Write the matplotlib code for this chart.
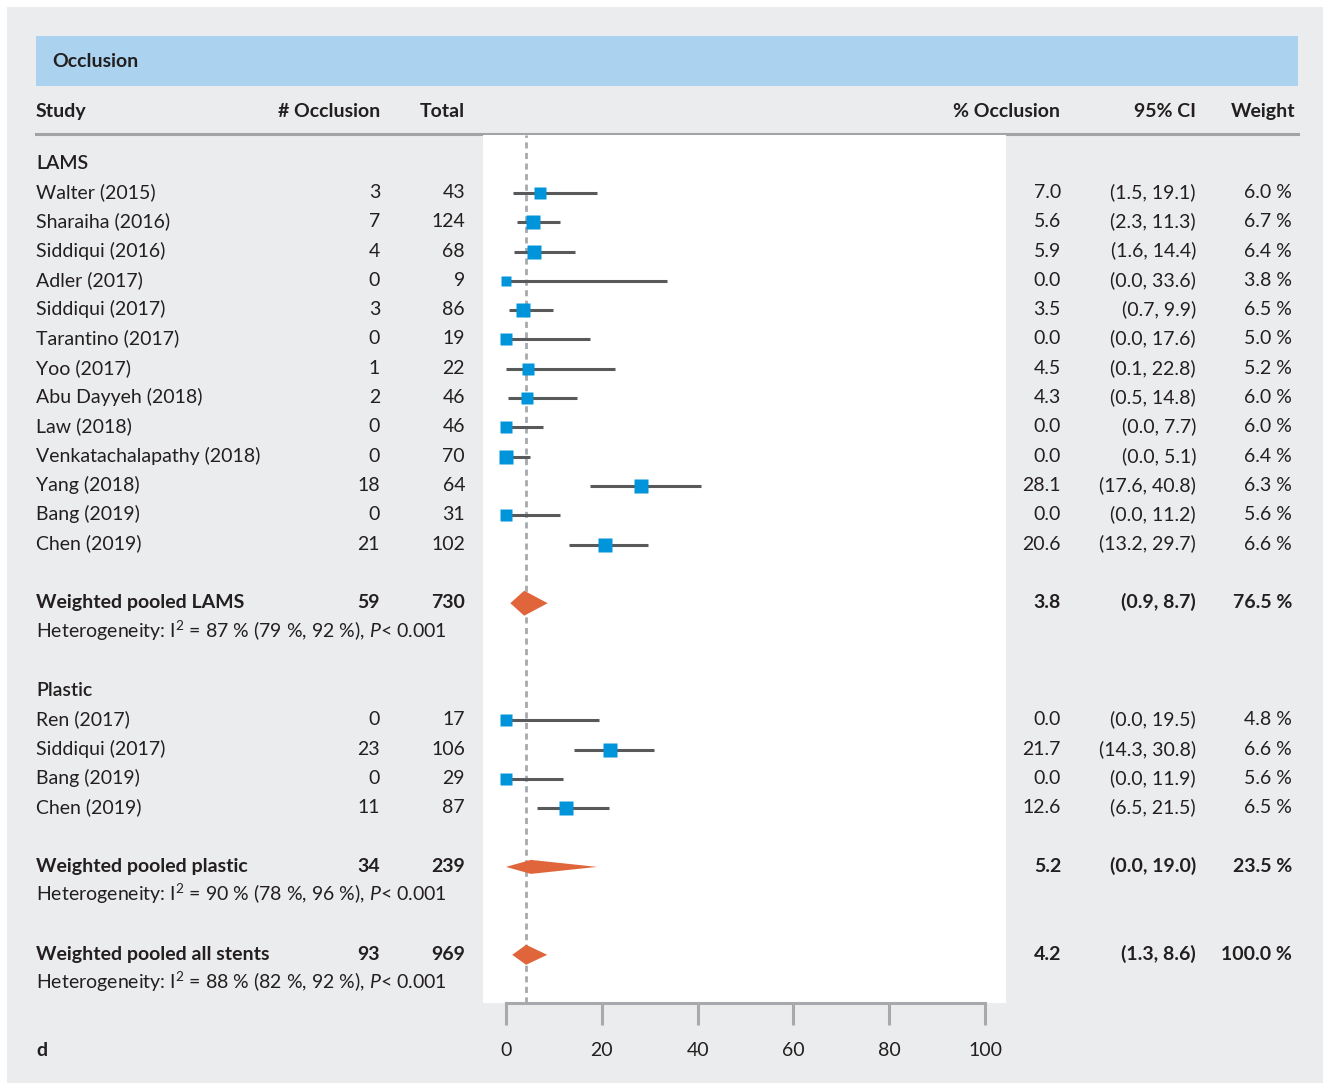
import numpy as np
import matplotlib
matplotlib.use("Agg")
import matplotlib.pyplot as plt
from matplotlib import transforms as mtransforms
from matplotlib.patches import Rectangle, Polygon
from matplotlib.lines import Line2D

plt.rcParams['font.family'] = ['Lato', 'DejaVu Sans']
plt.rcParams['mathtext.fontset'] = 'custom'
plt.rcParams['mathtext.rm'] = 'Lato'
plt.rcParams['mathtext.it'] = 'Lato:italic'

##
# Data
##
lams_study = ['Walter (2015)', 'Sharaiha (2016)', 'Siddiqui (2016)', 'Adler (2017)',
              'Siddiqui (2017)', 'Tarantino (2017)', 'Yoo (2017)', 'Abu Dayyeh (2018)',
              'Law (2018)', 'Venkatachalapathy (2018)', 'Yang (2018)', 'Bang (2019)',
              'Chen (2019)']
lams_events = [3, 7, 4, 0, 3, 0, 1, 2, 0, 0, 18, 0, 21]
lams_total = [43, 124, 68, 9, 86, 19, 22, 46, 46, 70, 64, 31, 102]
lams_est = [7.0, 5.6, 5.9, 0.0, 3.5, 0.0, 4.5, 4.3, 0.0, 0.0, 28.1, 0.0, 20.6]
lams_lo = [1.5, 2.3, 1.6, 0.0, 0.7, 0.0, 0.1, 0.5, 0.0, 0.0, 17.6, 0.0, 13.2]
lams_hi = [19.1, 11.3, 14.4, 33.6, 9.9, 17.6, 22.8, 14.8, 7.7, 5.1, 40.8, 11.2, 29.7]
lams_weight = [6.0, 6.7, 6.4, 3.8, 6.5, 5.0, 5.2, 6.0, 6.0, 6.4, 6.3, 5.6, 6.6]

plastic_study = ['Ren (2017)', 'Siddiqui (2017)', 'Bang (2019)', 'Chen (2019)']
plastic_events = [0, 23, 0, 11]
plastic_total = [17, 106, 29, 87]
plastic_est = [0.0, 21.7, 0.0, 12.6]
plastic_lo = [0.0, 14.3, 0.0, 6.5]
plastic_hi = [19.5, 30.8, 11.9, 21.5]
plastic_weight = [4.8, 6.6, 5.6, 6.5]

pooled_label = ['Weighted pooled LAMS', 'Weighted pooled plastic', 'Weighted pooled all stents']
pooled_events = [59, 34, 93]
pooled_total = [730, 239, 969]
pooled_est = [3.8, 5.2, 4.2]
pooled_lo = [0.9, 0.0, 1.3]
pooled_hi = [8.7, 19.0, 8.6]
pooled_weight = [76.5, 23.5, 100.0]
het_i2 = [87, 90, 88]
het_lo = [79, 78, 82]
het_hi = [92, 96, 92]

xticks = [0, 20, 40, 60, 80, 100]

##
# Layout (pixels of the 1330 x 1085 canvas)
##
W, H = 1330, 1085
ROW0, STEP = 163.7, 29.3          # y of row 0 and row spacing
PX_PER_UNIT = 4.79                # 0 -> x=506, 100 -> x=985
TXT = '#231f20'
FS = 14
GREY = '#a7a9ac'

rows_lams = 1 + np.arange(len(lams_study))
r_pool_lams = rows_lams[-1] + 2
r_plastic_hdr = r_pool_lams + 3
rows_plastic = r_plastic_hdr + 1 + np.arange(len(plastic_study))
r_pool_plastic = rows_plastic[-1] + 2
r_pool_all = r_pool_plastic + 3
pooled_rows = [r_pool_lams, r_pool_plastic, r_pool_all]
diamond_half_px = [12.5, 7.0, 10.0]

fig = plt.figure(figsize=(W / 100, H / 100), dpi=100)
fig.patch.set_facecolor('white')

# grey panel, blue title band, header rule
fig.patches.append(Rectangle((7 / W, 1 - 1083 / H), 1316 / W, 1076 / H, transform=fig.transFigure,
                             facecolor='#ebeced', edgecolor='none', zorder=-10))
fig.patches.append(Rectangle((36 / W, 1 - 86 / H), 1262 / W, 50 / H, transform=fig.transFigure,
                             facecolor='#abd3f0', edgecolor='none', zorder=-9))
fig.lines.append(Line2D([36 / W, 1298 / W], [1 - 133.5 / H] * 2, transform=fig.transFigure,
                        color='#a3a3a3', lw=2.2, zorder=-8))

ax = fig.add_axes([483 / W, 1 - 1003 / H, 523 / W, 868 / H])
ax.set_facecolor('white')
ax.set_xlim(-23 / PX_PER_UNIT, 500 / PX_PER_UNIT)
ax.set_ylim((1003 - ROW0) / STEP, (135 - ROW0) / STEP)

for s in ['top', 'right', 'left']:
    ax.spines[s].set_visible(False)
ax.spines['bottom'].set_bounds(xticks[0], xticks[-1])
ax.spines['bottom'].set_color(GREY)
ax.spines['bottom'].set_linewidth(2.2)
ax.set_yticks([])
ax.set_xticks(xticks)
ax.tick_params(axis='x', direction='out', length=16, width=2.2, color=GREY,
               pad=12, labelsize=FS, labelcolor=TXT)

# reference line at the overall pooled estimate
ax.axvline(pooled_est[2], color=GREY, lw=2.0, ls=(0, (2.2, 1.6)), zorder=1)

# study CIs and boxes
def draw_studies(rows, est, lo, hi, weight):
    ax.hlines(rows, lo, hi, color='#58595b', lw=2.2, zorder=2)
    for r, e, w in zip(rows, est, weight):
        side = 5.2 * np.sqrt(w) * 0.72
        ax.plot(e, r, marker='s', ms=side, mfc='#0095da', mec='none', zorder=3)

draw_studies(rows_lams, lams_est, lams_lo, lams_hi, lams_weight)
draw_studies(rows_plastic, plastic_est, plastic_lo, plastic_hi, plastic_weight)

for r, e, lo, hi, hp in zip(pooled_rows, pooled_est, pooled_lo, pooled_hi, diamond_half_px):
    h = hp / STEP
    ax.add_patch(Polygon([(lo, r), (e, r - h), (hi, r), (e, r + h)], closed=True,
                         facecolor='#e0653a', edgecolor='none', zorder=3))

##
# Table text
##
trans = mtransforms.blended_transform_factory(fig.transFigure, ax.transData)
BASE = 5.0 / STEP   # baseline offset below row centre


def put(xpx, row, s, ha='left', weight='normal'):
    ax.text(xpx / W, row + BASE, s, transform=trans, ha=ha, va='baseline',
            fontsize=FS, color=TXT, fontweight=weight, clip_on=False)


def put_px(xpx, ypx, s, ha='left', weight='normal'):
    fig.text(xpx / W, 1 - ypx / H, s, ha=ha, va='baseline', fontsize=FS,
             color=TXT, fontweight=weight)


put_px(52, 67, 'Occlusion', weight='bold')
put_px(36, 117, 'Study', weight='bold')
put_px(380, 117, '# Occlusion', ha='right', weight='bold')
put_px(465, 117, 'Total', ha='right', weight='bold')
put_px(1060, 117, '% Occlusion', ha='right', weight='bold')
put_px(1196, 117, '95% CI', ha='right', weight='bold')
put_px(1295, 117, 'Weight', ha='right', weight='bold')
put_px(36, 1056, 'd', weight='bold')


def put_row(row, name, ev, tot, est, lo, hi, w, weight='normal'):
    put(36, row, name, weight=weight)
    put(380, row, f'{ev}', ha='right', weight=weight)
    put(465, row, f'{tot}', ha='right', weight=weight)
    put(1061, row, f'{est:.1f}', ha='right', weight=weight)
    put(1196, row, f'({lo:.1f}, {hi:.1f})', ha='right', weight=weight)
    put(1292, row, f'{w:.1f} %', ha='right', weight=weight)


put(36, 0, 'LAMS', weight='semibold')
for i, r in enumerate(rows_lams):
    put_row(r, lams_study[i], lams_events[i], lams_total[i], lams_est[i],
            lams_lo[i], lams_hi[i], lams_weight[i])

put(36, r_plastic_hdr, 'Plastic', weight='semibold')
for i, r in enumerate(rows_plastic):
    put_row(r, plastic_study[i], plastic_events[i], plastic_total[i], plastic_est[i],
            plastic_lo[i], plastic_hi[i], plastic_weight[i])

for i, r in enumerate(pooled_rows):
    put_row(r, pooled_label[i], pooled_events[i], pooled_total[i], pooled_est[i],
            pooled_lo[i], pooled_hi[i], pooled_weight[i], weight='bold')
    put(36, r + 1, f'Heterogeneity: I$^{{2}}$ = {het_i2[i]} % ({het_lo[i]} %, {het_hi[i]} %), '
                   r'$\mathit{P}$< 0.001')

fig.savefig('out.png', dpi=100)
